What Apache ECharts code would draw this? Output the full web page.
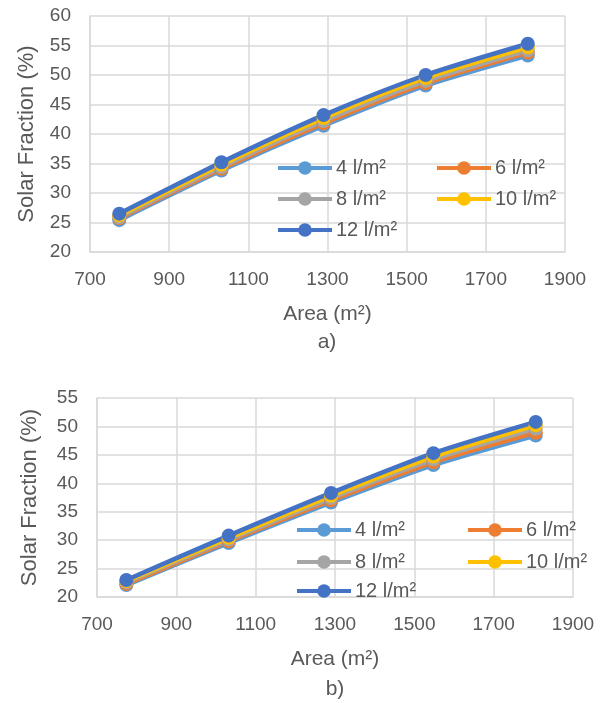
<!DOCTYPE html>
<html>
<head>
<meta charset="utf-8">
<script src="https://cdn.jsdelivr.net/npm/echarts@6/dist/echarts.min.js"></script>
<style>
  html, body { margin: 0; padding: 0; background: #fff; }
  #main { width: 603px; height: 703px; }
</style>
</head>
<body>
<div id="main"></div>
<script>
// collector area (m²)
var areas = [774, 1032, 1290, 1548, 1806];
var loadNames = ['4 l/m²', '6 l/m²', '8 l/m²', '10 l/m²', '12 l/m²'];
var colors = ['#5B9BD5', '#ED7D31', '#A5A5A5', '#FFC000', '#4472C4'];

// chart a) solar fraction (%)
var sfA4 = [25.4, 33.8, 41.4, 48.2, 53.3];
var sfA6 = [25.7, 34.1, 41.8, 48.6, 53.8];
var sfA8 = [25.9, 34.4, 42.2, 49.0, 54.2];
var sfA10 = [26.2, 34.8, 42.7, 49.5, 54.7];
var sfA12 = [26.5, 35.2, 43.2, 50.0, 55.3];

// chart b) solar fraction (%)
var sfB4 = [22.1, 29.5, 36.6, 43.2, 48.4];
var sfB6 = [22.3, 29.8, 37.0, 43.7, 48.9];
var sfB8 = [22.6, 30.1, 37.4, 44.2, 49.6];
var sfB10 = [22.8, 30.4, 37.8, 44.7, 50.2];
var sfB12 = [23.0, 30.8, 38.3, 45.3, 50.8];

var seriesA = [sfA4, sfA6, sfA8, sfA10, sfA12];
var seriesB = [sfB4, sfB6, sfB8, sfB10, sfB12];

var font = "'Liberation Sans', Arial, sans-serif";
var textColor = '#595959';
var gridColor = '#D9D9D9';

function makeSeries(values, axisIndex) {
    return values.map(function (vals, i) {
        return {
            name: loadNames[i],
            type: 'line',
            xAxisIndex: axisIndex,
            yAxisIndex: axisIndex,
            smooth: 0.25,
            symbol: 'circle',
            symbolSize: 14,
            itemStyle: { color: colors[i] },
            lineStyle: { width: 4.5, color: colors[i] },
            data: vals.map(function (v, k) { return [areas[k], v]; })
        };
    });
}

function xAxisOpt(gridIndex) {
    return {
        type: 'value', gridIndex: gridIndex,
        min: 700, max: 1900, interval: 200,
        name: 'Area (m²)', nameLocation: 'middle', nameGap: 52,
        nameTextStyle: { fontFamily: font, fontSize: 21, color: textColor },
        axisLine: { show: true, lineStyle: { color: gridColor, width: 1.5 } },
        axisTick: { show: false },
        axisLabel: {
            margin: 18, fontFamily: font, fontSize: 19, color: textColor,
            formatter: function (v) { return String(v); }
        },
        splitLine: { show: true, lineStyle: { color: gridColor, width: 1.5 } }
    };
}

function yAxisOpt(gridIndex, maxVal, gap) {
    return {
        type: 'value', gridIndex: gridIndex,
        min: 20, max: maxVal, interval: 5,
        name: 'Solar Fraction (%)', nameLocation: 'middle', nameGap: gap,
        nameTextStyle: { fontFamily: font, fontSize: 22, color: textColor },
        axisLine: { show: true, lineStyle: { color: gridColor, width: 1.5 } },
        axisTick: { show: false },
        axisLabel: { margin: 19, fontFamily: font, fontSize: 19, color: textColor },
        splitLine: { show: true, lineStyle: { color: gridColor, width: 1.5 } }
    };
}

function legendRow(names, left, top, gap) {
    return {
        data: names, left: left, top: top,
        padding: 0,
        itemWidth: 54, itemHeight: 17, itemGap: gap,
        selectedMode: false,
        lineStyle: { width: 4 },
        textStyle: { fontFamily: font, fontSize: 20, color: textColor, padding: [0, 0, 0, -1] }
    };
}

var myChart = echarts.init(document.getElementById('main'));
var option = {
    animation: false,
    grid: [
        { left: 90, top: 16, width: 475, height: 236 },
        { left: 97, top: 398, width: 476, height: 199 }
    ],
    xAxis: [xAxisOpt(0), xAxisOpt(1)],
    yAxis: [yAxisOpt(0, 60, 52), yAxisOpt(1, 55, 56)],
    legend: [
        legendRow(['4 l/m²', '6 l/m²'], 276, 158, 49),
        legendRow(['8 l/m²', '10 l/m²'], 276, 189, 49),
        legendRow(['12 l/m²'], 276, 220, 49),
        legendRow(['4 l/m²', '6 l/m²'], 295, 520, 61),
        legendRow(['8 l/m²', '10 l/m²'], 295, 552, 61),
        legendRow(['12 l/m²'], 295, 581, 61)
    ],
    graphic: [
        { type: 'text', x: 327, y: 342, style: { text: 'a)', fontFamily: font, fontSize: 21, fill: textColor, align: 'center', verticalAlign: 'middle' } },
        { type: 'text', x: 335, y: 689, style: { text: 'b)', fontFamily: font, fontSize: 21, fill: textColor, align: 'center', verticalAlign: 'middle' } }
    ],
    series: makeSeries(seriesA, 0).concat(makeSeries(seriesB, 1))
};
myChart.setOption(option);
</script>
</body>
</html>
